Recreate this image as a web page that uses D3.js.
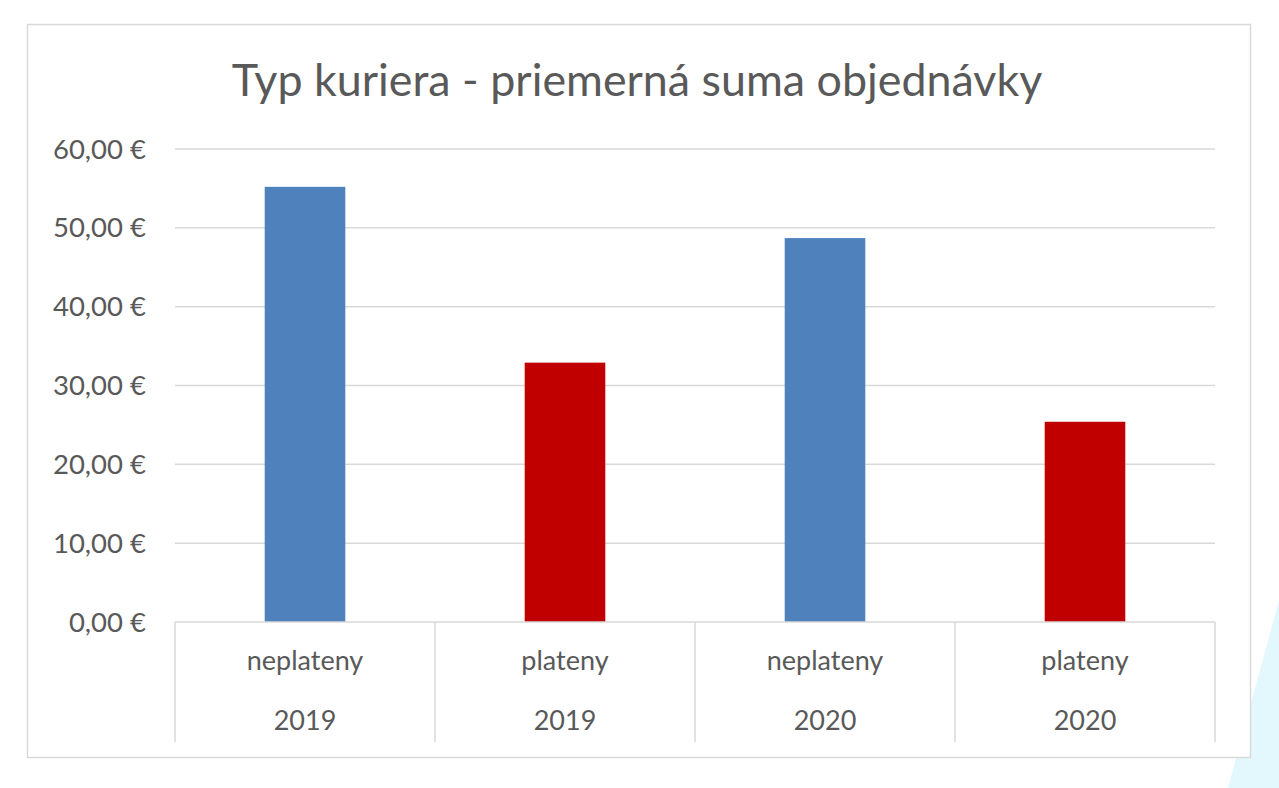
<!DOCTYPE html>
<html><head><meta charset="utf-8">
<script src="https://cdn.jsdelivr.net/npm/d3@7"></script>
<style>body{margin:0;background:#fff;}svg{display:block;font-family:Lato, "Open Sans", sans-serif;}</style>
</head><body>
<svg id="c" width="1279" height="788"></svg>
<script>
const title = "Typ kuriera - priemerná suma objednávky";
const categories = ["neplateny", "plateny", "neplateny", "plateny"];
const years = ["2019", "2019", "2020", "2020"];
const values = [55.2, 32.9, 48.7, 25.4];
const barColors = ["#4f81bd", "#c00000", "#4f81bd", "#c00000"];
const yTicks = [0, 10, 20, 30, 40, 50, 60];

(function () {
const svg = d3.select("#c");
svg.append("polygon").attr("points", "1279,600 1279,788 1228,788").attr("fill", "#e3f8fc");
svg.append("rect").attr("x", 27.5).attr("y", 24.5).attr("width", 1223).attr("height", 733)
  .attr("fill", "#fff").attr("stroke", "#d9d9d9").attr("stroke-width", 1.5);

const pLeft = 175, pRight = 1215, pTop = 149, pBottom = 622;
const y = d3.scaleLinear().domain([0, 60]).range([pBottom, pTop]);
const x = d3.scaleBand().domain(d3.range(categories.length)).range([pLeft, pRight]).paddingInner(0).paddingOuter(0);
const bw = x.bandwidth() * 0.31;

svg.append("text").attr("x", 637).attr("y", 96).attr("text-anchor", "middle")
  .attr("font-size", 44.8).attr("fill", "#595959").text(title);

svg.append("g").selectAll("line").data(yTicks.filter(d => d > 0)).join("line")
  .attr("x1", pLeft).attr("x2", pRight).attr("y1", d => y(d)).attr("y2", d => y(d))
  .attr("stroke", "#d9d9d9").attr("stroke-width", 1.5);

const fmt = d => d3.format(".2f")(d).replace(".", ",") + " €";
svg.append("g").selectAll("text").data(yTicks).join("text")
  .attr("x", 146).attr("y", d => y(d)).attr("dy", "0.35em").attr("text-anchor", "end")
  .attr("font-size", 27.5).attr("fill", "#595959").text(fmt);

svg.append("g").selectAll("rect").data(values).join("rect")
  .attr("x", (d, i) => x(i) + (x.bandwidth() - bw) / 2).attr("width", bw)
  .attr("y", d => y(d)).attr("height", d => y(0) - y(d))
  .attr("fill", (d, i) => barColors[i]);

svg.append("line").attr("x1", pLeft).attr("x2", pRight).attr("y1", pBottom).attr("y2", pBottom)
  .attr("stroke", "#d9d9d9").attr("stroke-width", 1.5);
svg.append("g").selectAll("line").data(d3.range(categories.length + 1)).join("line")
  .attr("x1", i => pLeft + i * x.step()).attr("x2", i => pLeft + i * x.step())
  .attr("y1", pBottom).attr("y2", 742).attr("stroke", "#d9d9d9").attr("stroke-width", 1.5);

svg.append("g").selectAll("text").data(categories).join("text")
  .attr("x", (d, i) => x(i) + x.bandwidth() / 2).attr("y", 670).attr("text-anchor", "middle")
  .attr("font-size", 27).attr("fill", "#595959").text(d => d);
svg.append("g").selectAll("text").data(years).join("text")
  .attr("x", (d, i) => x(i) + x.bandwidth() / 2).attr("y", 730).attr("text-anchor", "middle")
  .attr("font-size", 27).attr("fill", "#595959").text(d => d);
})();
</script>
</body></html>
